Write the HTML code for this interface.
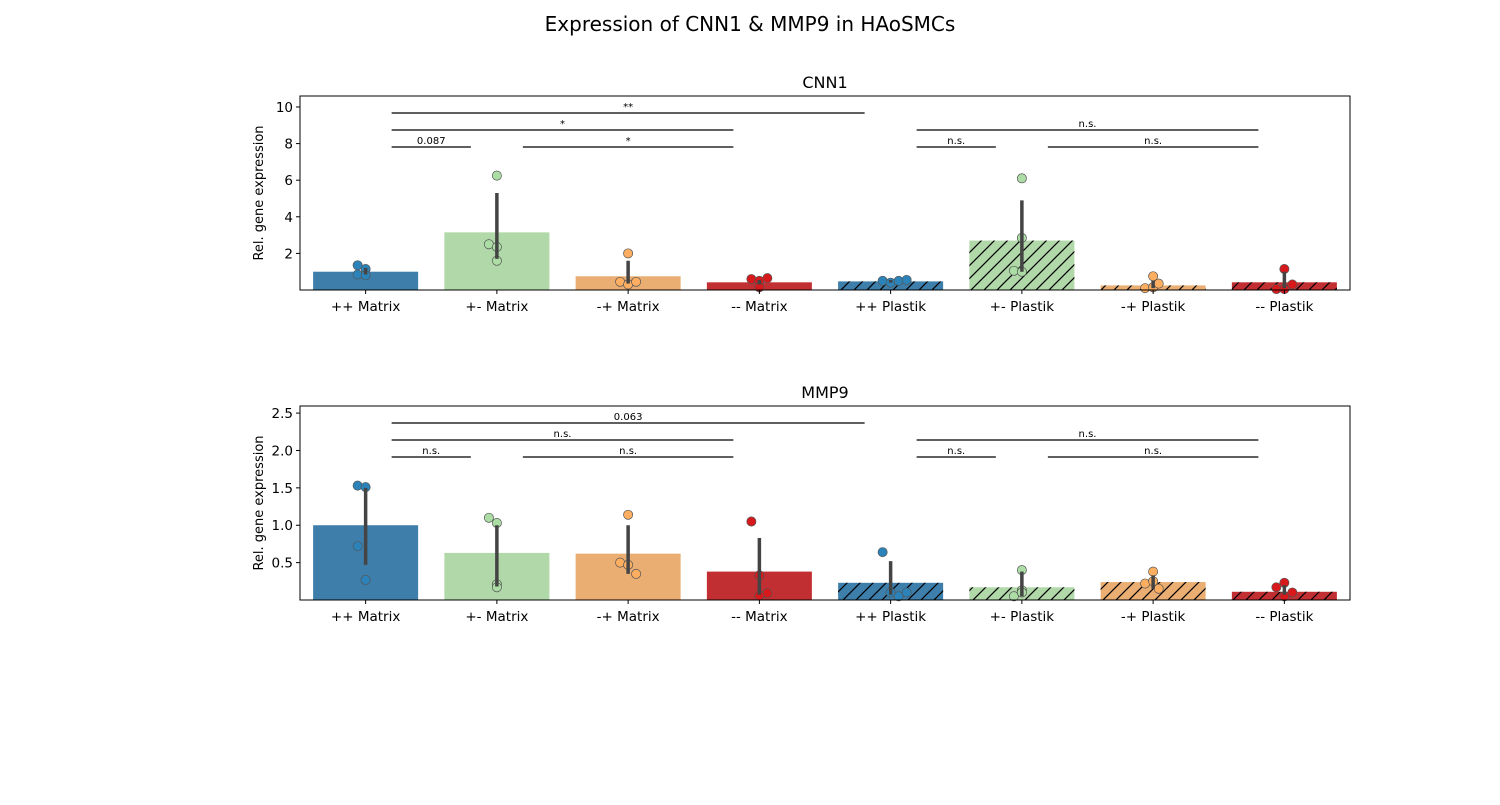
<!DOCTYPE html>
<html><head><meta charset="utf-8">
<style>
body{margin:0;background:#fff;font-family:"Liberation Sans","DejaVu Sans",sans-serif;}
svg text{font-family:"DejaVu Sans","Liberation Sans",sans-serif;}
</style></head>
<body>
<svg id="fig" width="1500" height="800" xmlns="http://www.w3.org/2000/svg">
<defs>
<pattern id="hatch" patternUnits="userSpaceOnUse" width="13" height="13">
<path d="M-2,15 L15,-2 M-2,2 L2,-2 M11,15 L15,11" stroke="#000" stroke-width="1.2"/>
</pattern>
</defs>
<text x="750" y="31" font-size="20" text-anchor="middle">Expression of CNN1 &amp; MMP9 in HAoSMCs</text>
</svg>
<script>
const categories=["++ Matrix","+- Matrix","-+ Matrix","-- Matrix","++ Plastik","+- Plastik","-+ Plastik","-- Plastik"];
const cnn1Means=[1.0,3.15,0.75,0.42,0.47,2.7,0.25,0.42];
const cnn1ErrLo=[0.85,1.7,0.35,0.3,0.4,1.0,0.1,0.1];
const cnn1ErrHi=[1.2,5.3,1.6,0.55,0.55,4.9,0.5,1.0];
const cnn1Points=[[1.35,1.15,0.85,0.8],[6.25,2.5,2.35,1.6],[2.0,0.45,0.3,0.45],[0.6,0.5,0.65,0.15],[0.5,0.4,0.5,0.55],[6.1,2.85,1.05,1.0],[0.75,0.1,0.15,0.35],[1.15,0.05,0.05,0.3]];
const mmp9Means=[1.0,0.63,0.62,0.38,0.23,0.17,0.24,0.11];
const mmp9ErrLo=[0.47,0.18,0.35,0.07,0.07,0.05,0.15,0.07];
const mmp9ErrHi=[1.5,1.0,1.0,0.83,0.52,0.38,0.33,0.2];
const mmp9Points=[[1.53,1.51,0.72,0.27],[0.21,1.1,1.03,0.17],[1.14,0.5,0.47,0.35],[1.05,0.33,0.09,0.06],[0.64,0.1,0.05,0.1],[0.4,0.13,0.05,0.1],[0.38,0.22,0.25,0.15],[0.23,0.17,0.05,0.1]];
const jitter=[[-1,0,-1,0],[0,-1,0,0],[0,-1,0,1],[-1,0,1,0],[-1,0,1,2],[0,0,-1,0],[0,-1,0,0.7],[0,-1,0,1]];
const cnn1Ticks=[2,4,6,8,10];
const mmp9Ticks=[0.5,1.0,1.5,2.0,2.5];
const cnn1Sig=["0.087","*","*","**","n.s.","n.s.","n.s."];
const mmp9Sig=["n.s.","n.s.","n.s.","0.063","n.s.","n.s.","n.s."];
const barCols=["#3d7eab","#b0d8a8","#eaad72","#c22f32"];
const ptCols=["#2b83ba","#abdda4","#fdae61","#d7191c"];
const NS="http://www.w3.org/2000/svg";
const svg=document.getElementById('fig');
function mk(tag,attrs,parent){const e=document.createElementNS(NS,tag);for(const k in attrs)e.setAttribute(k,attrs[k]);(parent||svg).appendChild(e);return e;}
function panel(name,title,top,ymax,means,lo,hi,pts,ticks,tickFmt,sig){
  const L=300,R=1350,T=top,B=top+194;
  const g=mk('g',{});
  
  
  const band=(R-L)/categories.length;
  const xc=i=>L+band*(i+0.5);
  const y=v=>B-(v/ymax)*(B-T);
  const t=mk('text',{x:(L+R)/2,y:T-8,'font-size':16,'text-anchor':'middle'},g);t.textContent=title;
  
  
  categories.forEach((c,i)=>{
    const bw=band*0.8,x0=xc(i)-bw/2;
    const r=mk('rect',{x:x0,y:y(means[i]),width:bw,height:B-y(means[i]),fill:barCols[i%4]},g);
    
    
    if(i>=4){const h=mk('rect',{x:x0,y:y(means[i]),width:bw,height:B-y(means[i]),fill:'url(#hatch)'},g);
      
      }
    pts[i].forEach((v,j)=>{
      const p=mk('circle',{cx:xc(i)+jitter[i][j]*8,cy:y(v),r:4.6,fill:ptCols[i%4],stroke:'#555','stroke-width':0.7},g);
      
      
    });
    const e=mk('line',{x1:xc(i),x2:xc(i),y1:y(lo[i]),y2:y(hi[i]),stroke:'#444',"stroke-width":3.5},g);
    
    
    mk('line',{x1:xc(i),x2:xc(i),y1:B,y2:B+4,stroke:'#000'},g);
    const lb=mk('text',{x:xc(i),y:B+21,'font-size':13.5,'text-anchor':'middle'},g);lb.textContent=c;
    
    
  });
  ticks.forEach(v=>{
    mk('line',{x1:L-4,x2:L,y1:y(v),y2:y(v),stroke:'#000'},g);
    const tl=mk('text',{x:L-7,y:y(v)+5,'font-size':13.5,'text-anchor':'end'},g);tl.textContent=tickFmt(v);
    
    
  });
  const yl=mk('text',{transform:`translate(${L-37},${(T+B)/2}) rotate(-90)`,'font-size':13,'text-anchor':'middle'},g);yl.textContent='Rel. gene expression';
  
  
  mk('rect',{x:L,y:T,width:R-L,height:B-T,fill:'none',stroke:'#000','stroke-width':1},g);
  const br=[[0,1,0],[1,3,0],[0,3,1],[0,4,2],[4,5,0],[5,7,0],[4,7,1]];
  br.forEach((b,k)=>{
    const yy=T+51-b[2]*17;
    const x1=xc(b[0])+26,x2=xc(b[1])-26;
    const l=mk('line',{x1:x1,x2:x2,y1:yy,y2:yy,stroke:'#000','stroke-width':1.2},g);
    
    
    const s=mk('text',{x:(x1+x2)/2,y:yy-3,'font-size':10,'text-anchor':'middle'},g);s.textContent=sig[k];
    
    
  });
}
panel('cnn1','CNN1',96,10.6,cnn1Means,cnn1ErrLo,cnn1ErrHi,cnn1Points,cnn1Ticks,v=>String(v),cnn1Sig);
panel('mmp9','MMP9',406,2.595,mmp9Means,mmp9ErrLo,mmp9ErrHi,mmp9Points,mmp9Ticks,v=>v.toFixed(1),mmp9Sig);
</script>
</body></html>
